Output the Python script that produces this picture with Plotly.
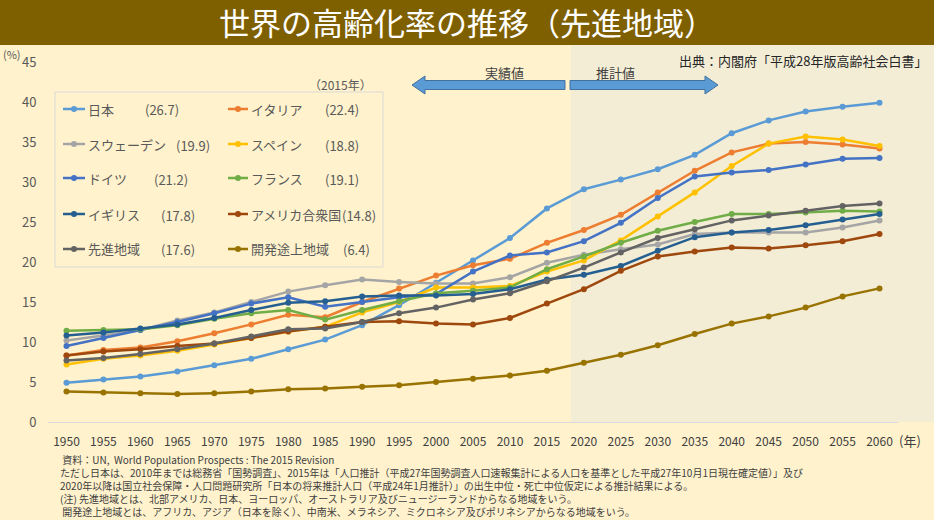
import plotly.graph_objects as go

# ---------------- data ----------------
years = list(range(1950, 2065, 5))
tick_labels = [str(y) for y in years]

series_names = ["日本", "イタリア", "スウェーデン", "スペイン", "ドイツ", "フランス",
                "イギリス", "アメリカ合衆国", "先進地域", "開発途上地域"]

japan = [4.9, 5.3, 5.7, 6.3, 7.1, 7.9, 9.1, 10.3, 12.1, 14.6, 17.4, 20.2, 23.0, 26.7,
         29.1, 30.3, 31.6, 33.4, 36.1, 37.7, 38.8, 39.4, 39.9]
italy = [8.3, 9.0, 9.3, 10.1, 11.1, 12.2, 13.4, 13.1, 15.0, 16.7, 18.3, 19.6, 20.4, 22.4,
         24.0, 25.9, 28.7, 31.4, 33.7, 34.8, 35.0, 34.7, 34.2]
sweden = [10.2, 10.8, 11.5, 12.7, 13.7, 15.0, 16.3, 17.1, 17.8, 17.5, 17.3, 17.3, 18.1, 19.9,
          20.9, 21.6, 22.2, 23.5, 23.7, 23.7, 23.7, 24.3, 25.2]
spain = [7.2, 7.9, 8.3, 8.9, 9.7, 10.5, 11.3, 11.9, 13.7, 15.0, 16.8, 16.8, 17.0, 18.8,
         20.2, 22.7, 25.7, 28.7, 32.0, 34.8, 35.7, 35.3, 34.5]
germany = [9.5, 10.5, 11.5, 12.5, 13.6, 14.8, 15.6, 14.4, 15.0, 15.6, 16.0, 18.8, 20.8, 21.2,
           22.6, 24.9, 28.0, 30.7, 31.2, 31.5, 32.2, 32.9, 33.0]
france = [11.4, 11.5, 11.6, 12.1, 12.9, 13.6, 14.0, 12.8, 14.0, 15.1, 16.1, 16.4, 16.8, 19.1,
          20.7, 22.4, 23.9, 25.0, 26.0, 26.0, 26.2, 26.4, 26.3]
uk = [10.8, 11.2, 11.7, 12.2, 13.0, 14.0, 14.9, 15.1, 15.7, 15.8, 15.8, 16.0, 16.6, 17.8,
      18.4, 19.5, 21.4, 23.1, 23.7, 24.0, 24.6, 25.3, 26.0]
usa = [8.3, 8.8, 9.1, 9.5, 9.8, 10.5, 11.3, 11.9, 12.5, 12.6, 12.3, 12.2, 13.0, 14.8,
       16.6, 18.9, 20.7, 21.3, 21.8, 21.7, 22.1, 22.6, 23.5]
developed = [7.7, 8.0, 8.5, 9.1, 9.8, 10.7, 11.6, 11.7, 12.5, 13.6, 14.3, 15.3, 16.1, 17.6,
             19.3, 21.2, 23.0, 24.1, 25.2, 25.8, 26.4, 27.0, 27.3]
developing = [3.8, 3.7, 3.6, 3.5, 3.6, 3.8, 4.1, 4.2, 4.4, 4.6, 5.0, 5.4, 5.8, 6.4,
              7.4, 8.4, 9.6, 11.0, 12.3, 13.2, 14.3, 15.7, 16.7]

values_2015_labels = ["(26.7)", "(22.4)", "(19.9)", "(18.8)", "(21.2)", "(19.1)",
                      "(17.8)", "(14.8)", "(17.6)", "(6.4)"]

y_ticks = [0, 5, 10, 15, 20, 25, 30, 35, 40, 45]

notes = [
    "&nbsp;資料：UN,  World Population Prospects : The 2015 Revision",
    "ただし日本は、2010年までは総務省「国勢調査」、2015年は「人口推計（平成27年国勢調査人口速報集計による人口を基準とした平成27年10月1日現在確定値）」及び",
    "2020年以降は国立社会保障・人口問題研究所「日本の将来推計人口（平成24年1月推計）」の出生中位・死亡中位仮定による推計結果による。",
    "(注) 先進地域とは、北部アメリカ、日本、ヨーロッパ、オーストラリア及びニュージーランドからなる地域をいう。",
    "&nbsp;開発途上地域とは、アフリカ、アジア（日本を除く）、中南米、メラネシア、ミクロネシア及びポリネシアからなる地域をいう。",
]

# ---------------- styles ----------------
series_values = [japan, italy, sweden, spain, germany, france, uk, usa, developed, developing]
colors = ["#5B9BD5", "#ED7D31", "#A5A5A5", "#FFC000", "#4472C4", "#70AD47",
          "#255E91", "#9E480E", "#636363", "#997300"]
FONT = "Noto Sans CJK JP"
W, H = 934, 520
ML, MR, MT, MB = 48, 36, 62, 98
PW, PH = W - ML - MR, H - MT - MB


def PX(x):
    return (x - ML) / PW


def PY(y):
    return (H - MB - y) / PH


fig = go.Figure()
for name, vals, col in zip(series_names, series_values, colors):
    fig.add_trace(go.Scatter(
        x=years, y=vals, name=name, mode="lines+markers",
        line=dict(color=col, width=2.5),
        marker=dict(color=col, size=6),
        showlegend=False,
    ))

shapes = []
annotations = []

# forecast shaded region
shapes.append(dict(type="rect", xref="paper", yref="paper",
                   x0=PX(571), x1=PX(934), y0=PY(422), y1=PY(45),
                   fillcolor="#F3EDD6", line=dict(width=0), layer="below"))
# title bar
shapes.append(dict(type="rect", xref="paper", yref="paper",
                   x0=PX(0), x1=PX(934), y0=PY(45), y1=PY(0),
                   fillcolor="#7F6000", line=dict(width=0), layer="above"))
annotations.append(dict(xref="paper", yref="paper", x=PX(467), y=PY(22),
                        text="世界の高齢化率の推移（先進地域）", showarrow=False,
                        font=dict(family=FONT, size=31, color="white"),
                        xanchor="center", yanchor="middle"))


def path(points):
    s = "M " + " L ".join(f"{PX(x):.5f},{PY(y):.5f}" for x, y in points) + " Z"
    return s


# block arrows
left_arrow = [(412, 85), (425, 76), (425, 80.5), (565, 80.5), (565, 89.5), (425, 89.5), (425, 94)]
right_arrow = [(570, 80.5), (705, 80.5), (705, 76), (718, 85), (705, 94), (705, 89.5), (570, 89.5)]
for pts in (left_arrow, right_arrow):
    shapes.append(dict(type="path", xref="paper", yref="paper", path=path(pts),
                       fillcolor="#5B9BD5", line=dict(color="#41719C", width=1)))
annotations.append(dict(xref="paper", yref="paper", x=PX(505), y=PY(72), text="実績値",
                        showarrow=False, font=dict(family=FONT, size=13, color="#404040"),
                        xanchor="center", yanchor="middle"))
annotations.append(dict(xref="paper", yref="paper", x=PX(615), y=PY(72), text="推計値",
                        showarrow=False, font=dict(family=FONT, size=13, color="#404040"),
                        xanchor="center", yanchor="middle"))
annotations.append(dict(xref="paper", yref="paper", x=PX(929), y=PY(60),
                        text="出典：内閣府「平成28年版高齢社会白書」",
                        showarrow=False, font=dict(family=FONT, size=13, color="#262626"),
                        xanchor="right", yanchor="middle"))

# legend (manual)
shapes.append(dict(type="rect", xref="paper", yref="paper",
                   x0=PX(55), x1=PX(383), y0=PY(267), y1=PY(92),
                   line=dict(color="#D9D9D9", width=1), fillcolor="rgba(0,0,0,0)"))
annotations.append(dict(xref="paper", yref="paper", x=PX(340), y=PY(84), text="（2015年）",
                        showarrow=False, font=dict(family=FONT, size=12, color="#595959"),
                        xanchor="center", yanchor="middle"))
row_y = [109, 144, 178, 214, 249]
col_line = [(63, 85), (228, 248)]
value_x = [143, 323, 174, 323, 152, 323, 159, 340, 159, 341]
for i, (name, col, vtxt) in enumerate(zip(series_names, colors, values_2015_labels)):
    r, c = i // 2, i % 2
    y = row_y[r]
    x0, x1 = col_line[c]
    shapes.append(dict(type="line", xref="paper", yref="paper",
                       x0=PX(x0), x1=PX(x1), y0=PY(y), y1=PY(y),
                       line=dict(color=col, width=2.5)))
    xm = (x0 + x1) / 2
    shapes.append(dict(type="circle", xref="paper", yref="paper",
                       x0=PX(xm - 3), x1=PX(xm + 3), y0=PY(y + 3), y1=PY(y - 3),
                       fillcolor=col, line=dict(color=col, width=0)))
    annotations.append(dict(xref="paper", yref="paper", x=PX(x1 + 1), y=PY(y), text=name,
                            showarrow=False, font=dict(family=FONT, size=13, color="#595959"),
                            xanchor="left", yanchor="middle"))
    annotations.append(dict(xref="paper", yref="paper", x=PX(value_x[i]), y=PY(y + 1), text=vtxt,
                            showarrow=False, font=dict(family=FONT, size=13, color="#595959"),
                            xanchor="left", yanchor="middle"))

# axis unit labels
annotations.append(dict(xref="paper", yref="paper", x=PX(12), y=PY(54), text="(%)",
                        showarrow=False, font=dict(family=FONT, size=11, color="#595959"),
                        xanchor="center", yanchor="middle"))
annotations.append(dict(xref="paper", yref="paper", x=PX(910), y=PY(440), text="(年)",
                        showarrow=False, font=dict(family=FONT, size=13, color="#404040"),
                        xanchor="center", yanchor="middle"))

# notes (one multi-line block)
annotations.append(dict(xref="paper", yref="paper", x=PX(58), y=PY(450),
                        text="<br>".join(notes), align="left",
                        showarrow=False, font=dict(family=FONT, size=10, color="#404040"),
                        xanchor="left", yanchor="top"))

fig.update_layout(
    width=W, height=H,
    margin=dict(l=ML, r=MR, t=MT, b=MB, pad=0),
    paper_bgcolor="#FFF2CC",
    plot_bgcolor="rgba(0,0,0,0)",
    shapes=shapes,
    annotations=annotations,
    font=dict(family=FONT, color="#404040"),
    xaxis=dict(range=[1947.5, 2062.5], tickvals=years, ticktext=tick_labels,
               showgrid=False, zeroline=False, showline=True, linecolor="#D9D9D9",
               linewidth=1, ticks="outside", ticklen=9, tickcolor="rgba(0,0,0,0)",
               tickfont=dict(family=FONT, size=12, color="#404040"),
               fixedrange=True),
    yaxis=dict(range=[0, 45], tickvals=y_ticks, showgrid=False, zeroline=False,
               showline=False, ticks="outside", ticklen=8, tickcolor="rgba(0,0,0,0)",
               tickfont=dict(family=FONT, size=13, color="#595959"), fixedrange=True),
)

fig.write_html("out.html", config={"displayModeBar": False},
               post_script="document.body.style.margin='0';document.body.style.background='#FFF2CC';")
